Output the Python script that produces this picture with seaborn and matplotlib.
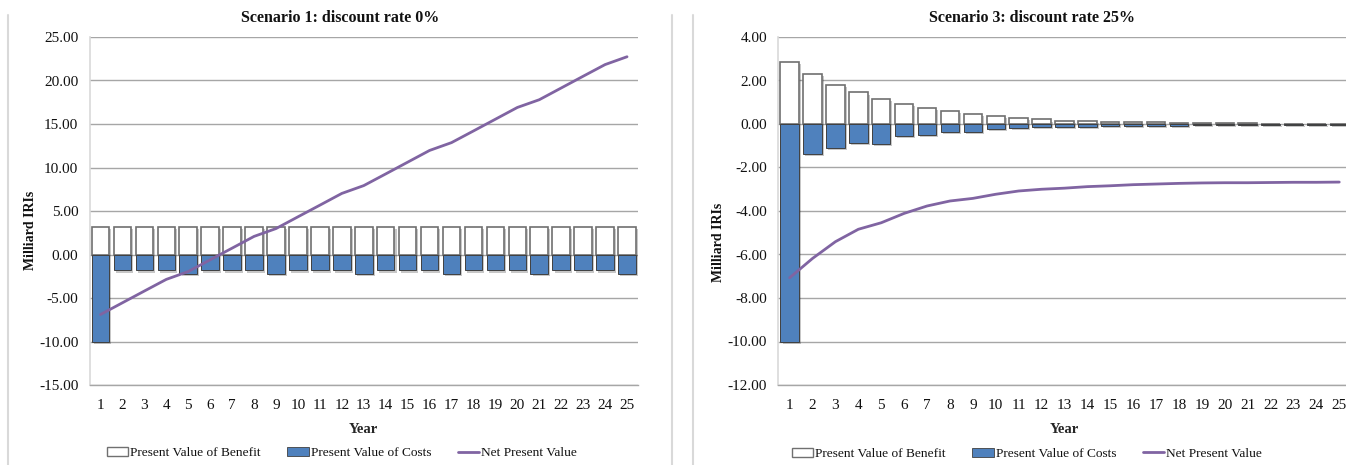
import matplotlib
matplotlib.use("Agg")
import matplotlib.pyplot as plt
import matplotlib.patheffects as pe
from matplotlib.lines import Line2D
from matplotlib.patches import Patch
from matplotlib.ticker import FuncFormatter, MultipleLocator
import numpy as np
import pandas as pd
import seaborn as sns

# ---- data (milliard IRIs) ----
years = list(range(1, 26))

benefit_0 = [3.18] * 25
cost_0 = [-10.08, -1.83, -1.83, -1.83, -2.28, -1.83, -1.83, -1.83, -2.28, -1.83,
          -1.83, -1.83, -2.28, -1.83, -1.83, -1.83, -2.28, -1.83, -1.83, -1.83,
          -2.28, -1.83, -1.83, -1.83, -2.28]
npv_0 = [-6.90, -5.55, -4.20, -2.86, -1.96, -0.61, 0.73, 2.08, 2.98, 4.33,
         5.67, 7.02, 7.92, 9.26, 10.61, 11.96, 12.86, 14.20, 15.55, 16.90,
         17.79, 19.14, 20.49, 21.83, 22.73]

benefit_25 = [2.87, 2.29, 1.80, 1.45, 1.15, 0.92, 0.75, 0.58, 0.46, 0.38,
              0.28, 0.21, 0.16, 0.12, 0.10, 0.08, 0.07, 0.06, 0.05, 0.04,
              0.03, 0.02, 0.02, 0.02, 0.01]
cost_25 = [-10.00, -1.38, -1.10, -0.86, -0.92, -0.57, -0.49, -0.37, -0.38, -0.24,
           -0.20, -0.15, -0.15, -0.12, -0.10, -0.09, -0.09, -0.07, -0.06, -0.05,
           -0.05, -0.04, -0.03, -0.03, -0.03]
npv_25 = [-7.07, -6.18, -5.41, -4.84, -4.54, -4.11, -3.77, -3.54, -3.42, -3.23,
          -3.08, -3.00, -2.95, -2.88, -2.84, -2.79, -2.76, -2.73, -2.71, -2.70,
          -2.70, -2.69, -2.68, -2.68, -2.67]

series_labels = ["Present Value of Benefit", "Present Value of Costs", "Net Present Value"]
titles = ["Scenario 1: discount rate 0%", "Scenario 3: discount rate 25%"]

# ---- style ----
BLUE = "#4f81bd"
PURPLE = "#8064a2"
GRID = "#a6a6a6"
FRAME = "#d9d9d9"
INK = "#111111"

sns.set_theme(style="white")
plt.rcParams["font.family"] = ["Liberation Serif", "DejaVu Serif"]
plt.rcParams["text.color"] = INK

W, H = 1346, 465
fig = plt.figure(figsize=(W / 100, H / 100), dpi=100)


def fx(px):
    return px / W


def fy(py):
    return 1 - py / H


shadow = [pe.SimplePatchShadow(offset=(1.5, -1.5), shadow_rgbFace="black", alpha=0.22), pe.Normal()]


def draw_panel(ax, benefit, cost, npv, lo, hi, step):
    df = pd.DataFrame({"Year": years, "Benefit": benefit, "Cost": cost, "NPV": npv})
    sns.barplot(data=df, x="Year", y="Benefit", native_scale=True, errorbar=None,
                color="white", saturation=1, edgecolor="#707070", linewidth=1.2,
                width=0.8, ax=ax)
    sns.barplot(data=df, x="Year", y="Cost", native_scale=True, errorbar=None,
                color=BLUE, saturation=1, edgecolor="#404040", linewidth=0.7,
                width=0.8, ax=ax)
    for p in ax.patches:
        p.set_path_effects(shadow)
    sns.lineplot(data=df, x="Year", y="NPV", color=PURPLE, linewidth=2, ax=ax)

    ax.set_xlim(0.5, 25.5)
    ax.set_ylim(lo, hi)
    ax.yaxis.set_major_locator(MultipleLocator(step))
    ax.yaxis.set_major_formatter(FuncFormatter(lambda v, p: f"{v:.2f}"))
    ax.set_xticks(years)
    ax.set_xticklabels([str(y) for y in years])
    ax.yaxis.grid(True, color=GRID, linewidth=1)
    ax.set_axisbelow(True)
    for s in ("top", "right"):
        ax.spines[s].set_visible(False)
    ax.spines["left"].set_color(FRAME)
    ax.spines["left"].set_linewidth(1.2)
    ax.spines["bottom"].set_color(GRID)
    ax.spines["bottom"].set_linewidth(1)
    ax.tick_params(axis="y", length=4, color=GRID, direction="out", pad=4,
                   labelsize=11, labelcolor=INK)
    ax.tick_params(axis="x", length=0, pad=10, labelsize=11, labelcolor=INK)
    ax.set_xlabel("Year", fontsize=10.5, fontweight="bold", labelpad=8)
    ax.set_ylabel("")


ax1 = fig.add_axes([fx(89.5), fy(385), fx(638 - 89.5), 348 / H])
draw_panel(ax1, benefit_0, cost_0, npv_0, -15, 25, 5)

ax2 = fig.add_axes([fx(778.2), fy(385), fx(572.5), 348 / H])
draw_panel(ax2, benefit_25, cost_25, npv_25, -12, 4, 2)

# titles and axis titles
fig.text(fx(340), fy(18), titles[0], ha="center", va="center", fontsize=11.5, fontweight="bold")
fig.text(fx(1032), fy(18), titles[1], ha="center", va="center", fontsize=11.5, fontweight="bold")
fig.text(fx(30), fy(230), "Milliard IRIs", rotation=90, ha="center", va="center",
         fontsize=10, fontweight="bold")
fig.text(fx(718), fy(242), "Milliard IRIs", rotation=90, ha="center", va="center",
         fontsize=10, fontweight="bold")

# legends
handles = [Patch(facecolor="white", edgecolor="#707070", linewidth=1),
           Patch(facecolor=BLUE, edgecolor="#404040", linewidth=0.6),
           Line2D([], [], color=PURPLE, linewidth=2)]
for cx, cy in ((342, 453), (1027, 454)):
    fig.legend(handles, series_labels, loc="center", bbox_to_anchor=(fx(cx), fy(cy)),
               ncol=3, frameon=False, fontsize=9.6, handlelength=1.6, handleheight=0.7,
               handletextpad=0.15, columnspacing=2.0, borderaxespad=0)

# panel frame edges
for x in (8, 672, 693):
    fig.add_artist(Line2D([fx(x), fx(x)], [0, fy(15)], transform=fig.transFigure,
                          color=FRAME, linewidth=1.5))

fig.savefig("out.png", dpi=100)
